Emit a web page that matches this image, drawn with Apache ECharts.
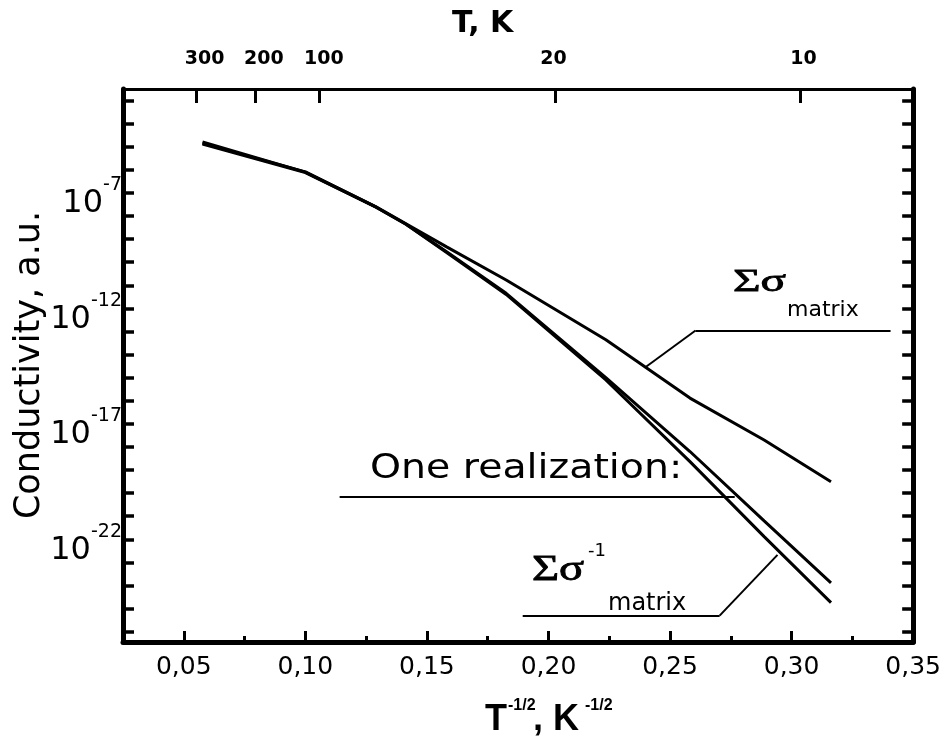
<!DOCTYPE html>
<html>
<head>
<meta charset="utf-8">
<script src="https://cdn.jsdelivr.net/npm/echarts@6.0.0/dist/echarts.min.js"></script>
<style>
  html, body { margin: 0; padding: 0; background: #fff; }
  #chart { width: 944px; height: 740px; }
</style>
</head>
<body>
<div id="chart"></div>
<script>
// T^-1/2 values (K^-1/2) at which the curves were read
const xVals = [0.0577, 0.1000, 0.1291, 0.1414, 0.1581, 0.1826, 0.2236, 0.2582, 0.2887, 0.3162];

// conductivity, a.u.
const sigmaMatrix    = [1.4e-5, 8.1e-7, 2.5e-8, 4.6e-9, 4.6e-10, 1.7e-11, 4.4e-14, 1.3e-16, 2.0e-18, 3.1e-20];
const oneRealization = [1.3e-5, 7.6e-7, 2.4e-8, 4.4e-9, 2.8e-10, 4.5e-12, 1.0e-15, 6.3e-19, 6.3e-22, 1.3e-24];
const sigmaInvMatrix = [1.6e-5, 7.9e-7, 2.4e-8, 4.4e-9, 2.6e-10, 4.0e-12, 7.9e-16, 2.3e-19, 1.3e-22, 1.8e-25];

// bottom axis ticks
const xMajorTicks = [0.05, 0.10, 0.15, 0.20, 0.25, 0.30, 0.35];
const xMinorTicks = [0.075, 0.125, 0.175, 0.225, 0.275, 0.325];

// top axis (T, K) as drawn in the original
const topLabels   = ['300', '200', '100', '20', '10'];
const topLabelPos = [0.0586, 0.0829, 0.1076, 0.2021, 0.3049];
const topTickPos  = [0.0553, 0.0792, 0.1059, 0.2026, 0.3037];

// y axis decades
const yTickExps  = [-3, -4, -5, -6, -7, -8, -9, -10, -11, -12, -13, -14, -15, -16, -17, -18, -19, -20, -21, -22, -23, -24, -25, -26];
const yLabelExps = [-7, -12, -17, -22];

// leader lines, in data coordinates [x, conductivity]
const leaderMatrix    = [[0.2400, 2.9e-15], [0.2605, 1.1e-13], [0.3407, 1.1e-13]];
const leaderOne       = [[0.1141, 6.9e-21], [0.2766, 6.9e-21]];
const leaderInvMatrix = [[0.1894, 4.9e-26], [0.2704, 4.9e-26], [0.2942, 2.1e-23]];

const FONT = '"DejaVu Sans", sans-serif';
const ARIAL = '"Liberation Sans", Arial, sans-serif';
const SERIF = '"Liberation Serif", serif';
const X_MIN = 0.025, X_MAX = 0.35;
const Y_MIN = Math.pow(10, -26.45), Y_MAX = Math.pow(10, -2.5);

const chart = echarts.init(document.getElementById('chart'), null, { renderer: 'canvas' });

const pairs = (xs, ys) => xs.map((x, i) => [x, ys[i]]);
const segs = (pts) => pts.slice(1).map((p, i) => [{ coord: pts[i] }, { coord: p }]);
const nearestIdx = (arr, v) => {
  let best = 0;
  arr.forEach((a, i) => { if (Math.abs(a - v) < Math.abs(arr[best] - v)) best = i; });
  return best;
};
const decades = (exps) => exps.map((e) => Math.pow(10, e));

const lineSeries = (name, data, leader) => ({
  name,
  type: 'line',
  xAxisIndex: 0,
  yAxisIndex: 0,
  data,
  showSymbol: false,
  smooth: false,
  lineStyle: { color: '#000', width: 3 },
  itemStyle: { color: '#000' },
  silent: true,
  markLine: {
    silent: true,
    symbol: 'none',
    label: { show: false },
    lineStyle: { color: '#000', width: 2, type: 'solid' },
    emphasis: { disabled: true },
    data: segs(leader)
  }
});

const txt = (text, x, y, font, size, extra) => ({
  type: 'text', x, y, silent: true, ...extra,
  style: { text, fontFamily: font, fontSize: size, fill: '#000', verticalAlign: 'middle', ...(extra && extra.style) }
});

const option = {
  backgroundColor: '#fff',
  animation: false,
  grid: { left: 123, right: 27, top: 89, bottom: 98 },
  xAxis: [
    {
      type: 'value',
      position: 'bottom',
      min: X_MIN,
      max: X_MAX,
      axisLine: { show: true, onZero: false, lineStyle: { color: '#000', width: 5 } },
      axisTick: { show: true, inside: true, length: 11, customValues: xMajorTicks, lineStyle: { color: '#000', width: 3 } },
      axisLabel: {
        customValues: xMajorTicks,
        margin: 13,
        color: '#000',
        fontFamily: FONT,
        fontSize: 25,
        formatter: (v) => v.toFixed(2).replace('.', ',')
      },
      splitLine: { show: false }
    },
    {
      type: 'value',
      position: 'bottom',
      min: X_MIN,
      max: X_MAX,
      axisLine: { show: false, onZero: false },
      axisTick: { show: true, inside: true, length: 6, customValues: xMinorTicks, lineStyle: { color: '#000', width: 3 } },
      axisLabel: { show: false },
      splitLine: { show: false }
    },
    {
      type: 'value',
      position: 'top',
      min: X_MIN,
      max: X_MAX,
      axisLine: { show: true, onZero: false, lineStyle: { color: '#000', width: 3 } },
      axisTick: { show: true, inside: true, length: 14, customValues: topTickPos, lineStyle: { color: '#000', width: 3 } },
      axisLabel: {
        customValues: topLabelPos,
        margin: 20,
        color: '#000',
        fontFamily: FONT,
        fontWeight: 'bold',
        fontSize: 19,
        formatter: (v) => topLabels[nearestIdx(topLabelPos, v)]
      },
      splitLine: { show: false }
    }
  ],
  yAxis: [
    {
      type: 'log',
      logBase: 10,
      position: 'left',
      min: Y_MIN,
      max: Y_MAX,
      axisLine: { show: true, onZero: false, lineStyle: { color: '#000', width: 5 } },
      axisTick: { show: true, inside: true, length: 11, customValues: decades(yTickExps), lineStyle: { color: '#000', width: 3.5 } },
      axisLabel: {
        customValues: decades(yLabelExps),
        margin: 1,
        padding: [10, 0, 0, 0],
        formatter: (v) => '{e| }{b|10}{s|' + Math.round(Math.log10(v)) + '}',
        rich: {
          e: { fontSize: 1, lineHeight: 44 },
          b: { fontFamily: FONT, fontSize: 32, color: '#000', lineHeight: 32, verticalAlign: 'bottom' },
          s: { fontFamily: FONT, fontSize: 19, color: '#000', lineHeight: 19, verticalAlign: 'top' }
        }
      },
      splitLine: { show: false }
    },
    {
      type: 'log',
      logBase: 10,
      position: 'right',
      min: Y_MIN,
      max: Y_MAX,
      axisLine: { show: true, onZero: false, lineStyle: { color: '#000', width: 5 } },
      axisTick: { show: true, inside: true, length: 11, customValues: decades(yTickExps), lineStyle: { color: '#000', width: 3.5 } },
      axisLabel: { show: false },
      splitLine: { show: false }
    }
  ],
  series: [
    lineSeries('Σσ matrix', pairs(xVals, sigmaMatrix), leaderMatrix),
    lineSeries('One realization', pairs(xVals, oneRealization), leaderOne),
    lineSeries('Σσ-1 matrix', pairs(xVals, sigmaInvMatrix), leaderInvMatrix)
  ],
  graphic: [
    // axis titles
    txt('T, K', 452, 24, FONT, 30, { style: { fontWeight: 'bold' } }),
    txt('Conductivity, a.u.', 30, 365, FONT, 35, { rotation: Math.PI / 2, style: { align: 'center' } }),
    txt('T', 485, 720, ARIAL, 36, { style: { fontWeight: 'bold' } }),
    txt('-1/2', 508, 706, ARIAL, 16, { style: { fontWeight: 'bold' } }),
    txt(', K', 533, 720, ARIAL, 36, { style: { fontWeight: 'bold' } }),
    txt('-1/2', 585, 706, ARIAL, 16, { style: { fontWeight: 'bold' } }),
    // Σσ_matrix
    txt('Σσ', 733, 283, SERIF, 32, { scaleX: 1.48, style: { stroke: '#000', lineWidth: 0.8 } }),
    txt('matrix', 787, 310, FONT, 22),
    // One realization:
    txt('One realization:', 370, 469, FONT, 34, { scaleX: 1.16 }),
    // Σσ^-1_matrix
    txt('Σσ', 532, 571, SERIF, 35, { scaleX: 1.33, style: { stroke: '#000', lineWidth: 0.8 } }),
    txt('-1', 588, 551, FONT, 18),
    txt('matrix', 608, 604, FONT, 24)
  ]
};

chart.setOption(option);
</script>
</body>
</html>
